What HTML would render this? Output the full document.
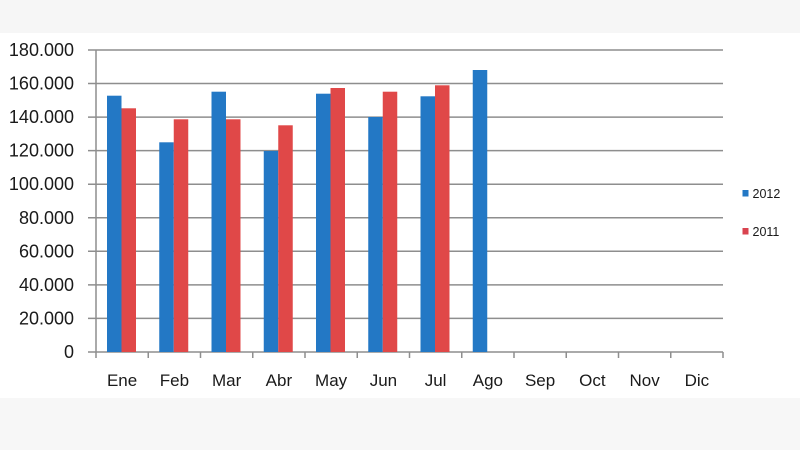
<!DOCTYPE html>
<html><head><meta charset="utf-8"><style>
html,body{margin:0;padding:0;background:#fff;}
svg{display:block;}
text{font-family:"Liberation Sans",sans-serif;fill:#1a1a1a;}
</style></head><body>
<svg width="800" height="450" viewBox="0 0 800 450" xmlns="http://www.w3.org/2000/svg">
<rect x="0" y="0" width="800" height="450" fill="#ffffff"/>
<rect x="0" y="0" width="800" height="33" fill="#f6f6f6"/>
<rect x="0" y="398" width="800" height="52" fill="#f7f7f7"/>
<g stroke="#8e8e8e" stroke-width="1.5">
<line x1="88" y1="50" x2="723" y2="50"/>
<line x1="88" y1="83.5" x2="723" y2="83.5"/>
<line x1="88" y1="117.1" x2="723" y2="117.1"/>
<line x1="88" y1="150.6" x2="723" y2="150.6"/>
<line x1="88" y1="184.2" x2="723" y2="184.2"/>
<line x1="88" y1="217.8" x2="723" y2="217.8"/>
<line x1="88" y1="251.3" x2="723" y2="251.3"/>
<line x1="88" y1="284.9" x2="723" y2="284.9"/>
<line x1="88" y1="318.4" x2="723" y2="318.4"/>
<line x1="88" y1="352" x2="723" y2="352"/>
<line x1="96" y1="50" x2="96" y2="358"/>
</g>
<g stroke="#8e8e8e" stroke-width="1.5">
<line x1="148.25" y1="352" x2="148.25" y2="358"/>
<line x1="200.5" y1="352" x2="200.5" y2="358"/>
<line x1="252.75" y1="352" x2="252.75" y2="358"/>
<line x1="305" y1="352" x2="305" y2="358"/>
<line x1="357.25" y1="352" x2="357.25" y2="358"/>
<line x1="409.5" y1="352" x2="409.5" y2="358"/>
<line x1="461.75" y1="352" x2="461.75" y2="358"/>
<line x1="514" y1="352" x2="514" y2="358"/>
<line x1="566.25" y1="352" x2="566.25" y2="358"/>
<line x1="618.5" y1="352" x2="618.5" y2="358"/>
<line x1="670.75" y1="352" x2="670.75" y2="358"/>
<line x1="723" y1="352" x2="723" y2="358"/>
</g>
<g fill="#2378c5">
<rect x="107" y="95.7" width="14.5" height="256.3"/>
<rect x="159.25" y="142.3" width="14.5" height="209.7"/>
<rect x="211.5" y="91.7" width="14.5" height="260.3"/>
<rect x="263.75" y="151" width="14.5" height="201"/>
<rect x="316" y="93.7" width="14.5" height="258.3"/>
<rect x="368.25" y="117" width="14.5" height="235"/>
<rect x="420.5" y="96.3" width="14.5" height="255.7"/>
<rect x="472.75" y="70" width="14.5" height="282"/>
</g>
<g fill="#e04848">
<rect x="121.5" y="108.3" width="14.5" height="243.7"/>
<rect x="173.75" y="119.3" width="14.5" height="232.7"/>
<rect x="226" y="119.3" width="14.5" height="232.7"/>
<rect x="278.25" y="125.3" width="14.5" height="226.7"/>
<rect x="330.5" y="88" width="14.5" height="264"/>
<rect x="382.75" y="91.7" width="14.5" height="260.3"/>
<rect x="435" y="85.3" width="14.5" height="266.7"/>
</g>
<g font-size="18" text-anchor="end">
<text x="74" y="56">180.000</text>
<text x="74" y="89.5">160.000</text>
<text x="74" y="123.1">140.000</text>
<text x="74" y="156.6">120.000</text>
<text x="74" y="190.2">100.000</text>
<text x="74" y="223.8">80.000</text>
<text x="74" y="257.3">60.000</text>
<text x="74" y="290.9">40.000</text>
<text x="74" y="324.4">20.000</text>
<text x="74" y="358">0</text>
</g>
<g font-size="17" text-anchor="middle">
<text x="122.1" y="386">Ene</text>
<text x="174.4" y="386">Feb</text>
<text x="226.6" y="386">Mar</text>
<text x="278.9" y="386">Abr</text>
<text x="331.1" y="386">May</text>
<text x="383.4" y="386">Jun</text>
<text x="435.6" y="386">Jul</text>
<text x="487.9" y="386">Ago</text>
<text x="540.1" y="386">Sep</text>
<text x="592.4" y="386">Oct</text>
<text x="644.6" y="386">Nov</text>
<text x="696.9" y="386">Dic</text>
</g>
<rect x="742.5" y="190" width="6" height="6.5" fill="#2378c5"/>
<rect x="742.5" y="228" width="6" height="6.5" fill="#d9434f"/>
<g font-size="12.5">
<text x="752.5" y="198">2012</text>
<text x="752.5" y="236">2011</text>
</g>
</svg>
</body></html>
